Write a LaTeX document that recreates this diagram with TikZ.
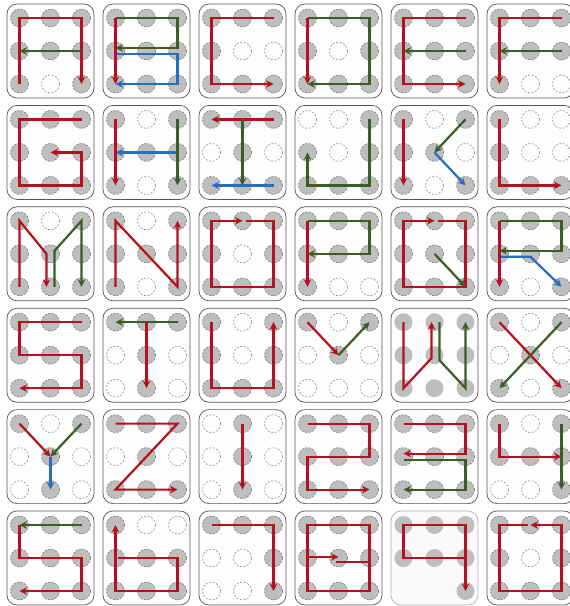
\documentclass[tikz,border=0pt]{standalone}
\usetikzlibrary{arrows.meta,calc}
\definecolor{rd}{RGB}{180,18,32}
\definecolor{gn}{RGB}{62,92,38}
\definecolor{bu}{RGB}{42,108,190}
\definecolor{dotf}{RGB}{190,190,190}
\definecolor{dote}{RGB}{120,120,120}
\definecolor{pedge}{RGB}{85,85,85}
\definecolor{pfill}{RGB}{253,253,253}
\tikzset{
  panelbox/.style={draw=pedge,fill=pfill,line width=0.7pt,rounded corners=10pt},
  dotfull/.style={fill=dotf,draw=dote,dash pattern=on 2pt off 1.6pt,line width=0.6pt},
  dotempty/.style={draw=dote!85,dash pattern=on 2pt off 1.6pt,line width=0.6pt},
  dotplain/.style={fill=dotf},
  pathline/.style={line width=2.2pt,line join=miter,-{Stealth[length=7.5pt,width=7.5pt]}},
  redp/.style={pathline,draw=rd},
  grnp/.style={pathline,draw=gn},
  blup/.style={pathline,draw=bu},
  plainred/.style={line width=2.2pt,draw=rd}
}
\newcommand\pnl[3][]{\begin{scope}[shift={(7+96*#2,4+101.4*#3)}]
  \draw[panelbox,#1] (0,0) rectangle (87,94);
  \coordinate (tl) at (12.5,14); \coordinate (tc) at (43.5,14); \coordinate (tr) at (74.5,14);
  \coordinate (ml) at (12.5,47); \coordinate (mc) at (43.5,47); \coordinate (mr) at (74.5,47);
  \coordinate (bl) at (12.5,80); \coordinate (bc) at (43.5,80); \coordinate (br) at (74.5,80);}
\newcommand\pend{\end{scope}}
\newcommand\fd[1]{\foreach \q in {#1}{\path[dotfull] (\q) circle[radius=9pt];}}
\newcommand\ed[1]{\foreach \q in {#1}{\path[dotempty] (\q) circle[radius=9pt];}}
\newcommand\pd[1]{\foreach \q in {#1}{\path[dotplain] (\q) circle[radius=9pt];}}
\begin{document}
\begin{tikzpicture}[x=1pt,y=-1pt]
\useasboundingbox (0,0) rectangle (570,606);
\fill[white] (0,0) rectangle (570,606);
% ---------- row 0
\pnl{0}{0}\fd{tl,tc,tr,ml,mc,mr,bl,br}\ed{bc}
 \draw[redp] (bl)--(tl)--(tr)--(br); \draw[grnp] (mr)--(ml);
\pend
\pnl{1}{0}\fd{tl,tc,tr,ml,mc,mr,bl,bc,br}
 \draw[grnp] (tl)--(tr)--($(mr)+(0,-3)$)--($(ml)+(0,-3)$);
 \draw[blup] ($(ml)+(0,3)$)--($(mr)+(0,3)$)--(br)--(bl);
 \draw[redp] (tl)--(bl);
\pend
\pnl{2}{0}\fd{tl,tc,tr,ml,bl,bc,br}\ed{mc,mr}
 \draw[redp] (tr)--(tl)--(bl)--(br);
\pend
\pnl{3}{0}\fd{tl,tc,tr,ml,mr,bl,bc,br}\ed{mc}
 \draw[grnp] (tl)--(tr)--(br)--(bl); \draw[redp] (tl)--(bl);
\pend
\pnl{4}{0}\fd{tl,tc,tr,ml,mc,mr,bl,bc,br}
 \draw[redp] (tr)--(tl)--(bl)--(br); \draw[grnp] (mr)--(ml);
\pend
\pnl{5}{0}\fd{tl,tc,tr,ml,mc,mr,bl}\ed{bc,br}
 \draw[redp] (tr)--(tl)--(bl); \draw[grnp] (mr)--(ml);
\pend
% ---------- row 1
\pnl{0}{1}\fd{tl,tc,tr,ml,mc,mr,bl,bc,br}
 \draw[redp] (tr)--(tl)--(bl)--(br)--(mr)--(mc);
\pend
\pnl{1}{1}\fd{tl,tr,ml,mc,mr,bl,br}\ed{tc,bc}
 \draw[blup] (mr)--(ml); \draw[redp] (tl)--(bl); \draw[grnp] (tr)--(br);
\pend
\pnl{2}{1}\fd{tl,tc,tr,mc,bl,bc,br}\ed{ml,mr}
 \draw[redp] (tr)--(tl); \draw[blup] (br)--(bl); \draw[grnp] (tc)--(bc);
\pend
\pnl{3}{1}\fd{tr,ml,mr,bl,bc,br}\ed{tl,tc,mc}
 \draw[grnp] (tr)--(br)--(bl)--(ml);
\pend
\pnl{4}{1}\fd{tl,tr,ml,mc,bl,br}\ed{tc,mr,bc}
 \draw[redp] (tl)--(bl); \draw[grnp] (tr)--(mc); \draw[blup] (mc)--(br);
\pend
\pnl{5}{1}\fd{tl,ml,bl,bc,br}\ed{tc,tr,mc,mr}
 \draw[redp] (tl)--(bl)--(br);
\pend
% ---------- row 2
\pnl{0}{2}\fd{tl,tr,ml,mc,mr,bl,bc,br}\ed{tc}
 \draw[redp] (bl)--(tl)--($(mc)+(-4,0)$)--($(bc)+(-4,0)$);
 \draw[grnp] ($(bc)+(4,0)$)--($(mc)+(4,-3)$)--(tr)--(br);
\pend
\pnl{1}{2}\fd{tl,tr,ml,mc,mr,bl,br}\ed{tc,bc}
 \draw[redp] (bl)--(tl)--(br)--(tr);
\pend
\pnl{2}{2}\fd{tl,tc,tr,ml,mr,bl,bc,br}\ed{mc}
 \draw[redp] ($(tc)+(3,0)$)--(tr)--(br)--(bl)--(tl)--(tc);
\pend
\pnl{3}{2}\fd{tl,tc,tr,ml,mc,mr,bl}\ed{bc,br}
 \draw[grnp] (tl)--(tr)--(mr)--(ml); \draw[redp] (tl)--(bl);
\pend
\pnl{4}{2}\fd{tl,tc,tr,ml,mc,mr,bl,bc,br}
 \draw[redp] ($(tc)+(3,0)$)--(tr)--(br)--(bl)--(tl)--(tc); \draw[grnp] (mc)--(br);
\pend
\pnl{5}{2}\fd{tl,tc,tr,ml,mc,mr,bl,br}\ed{bc}
 \draw[grnp] (tl)--(tr)--($(mr)+(0,-3)$)--($(ml)+(0,-3)$);
 \draw[blup] ($(ml)+(0,3)$)--($(mc)+(0,3)$)--(br);
 \draw[redp] (tl)--(bl);
\pend
% ---------- row 3
\pnl{0}{3}\fd{tl,tc,tr,ml,mc,mr,bl,bc,br}
 \draw[redp] (tr)--(tl)--(ml)--(mr)--(br)--(bl);
\pend
\pnl{1}{3}\fd{tl,tc,tr,mc,bc}\ed{ml,mr,bl,br}
 \draw[grnp] (tr)--(tl); \draw[redp] (tc)--(bc);
\pend
\pnl{2}{3}\fd{tl,tr,ml,mr,bl,bc,br}\ed{tc,mc}
 \draw[redp] (tl)--(bl)--(br)--(tr);
\pend
\pnl{3}{3}\fd{tl,tr,mc}\ed{tc,ml,mr,bl,bc,br}
 \draw[redp] (tl)--(mc); \draw[grnp] (mc)--(tr);
\pend
\pnl{4}{3}\pd{tl,tc,tr,ml,mc,mr,bl,bc,br}
 \draw[redp] (tl)--(bl)--($(mc)+(-3,3)$)--($(tc)+(-3,0)$);
 \draw[grnp] ($(tc)+(5,0)$)--($(mc)+(5,5)$)--(br)--(tr);
\pend
\pnl{5}{3}\fd{tl,tr,mc,bl,br}\ed{tc,ml,mr,bc}
 \draw[redp] (tl)--(br); \draw[grnp] (tr)--(bl);
\pend
% ---------- row 4
\pnl{0}{4}\fd{tl,tr,mc,bc}\ed{tc,ml,mr,bl,br}
 \draw[blup] (mc)--(bc); \draw[redp] (tl)--(mc); \draw[grnp] (tr)--(mc);
\pend
\pnl{1}{4}\fd{tl,tc,tr,mc,bl,bc,br}\ed{ml,mr}
 \draw[redp] (tl)--(tr)--(bl)--(br);
\pend
\pnl{2}{4}\fd{tc,mc,bc}\ed{tl,tr,ml,mr,bl,br}
 \draw[redp] (tc)--(bc);
\pend
\pnl{3}{4}\fd{tl,tc,tr,ml,mc,mr,bl,bc,br}
 \draw[redp] (tl)--(tr)--(mr)--(ml)--(bl)--(br);
\pend
\pnl{4}{4}\fd{tl,tc,tr,ml,mc,mr,bl,bc,br}
 \draw[grnp] ($(ml)+(0,3)$)--($(mr)+(0,3)$)--(br)--(bl);
 \draw[redp] (tl)--(tr)--($(mr)+(0,-3)$)--($(ml)+(0,-3)$);
\pend
\pnl{5}{4}\fd{tl,tr,ml,mc,mr,br}\ed{tc,bl,bc}
 \draw[redp] (tl)--(ml)--(mr); \draw[grnp] (tr)--(br);
\pend
% ---------- row 5
\pnl{0}{5}\fd{tl,tc,tr,ml,mc,mr,bl,bc,br}
 \draw[redp] (tl)--(ml)--(mr)--(br)--(bl); \draw[grnp] (tr)--(tl);
\pend
\pnl{1}{5}\fd{tl,ml,mc,mr,bl,bc,br}\ed{tc,tr}
 \draw[redp] ($(ml)+(2,0)$)--(mr)--(br)--(bl)--(tl);
\pend
\pnl{2}{5}\fd{tl,tc,tr,mr,br}\ed{ml,mc,bl,bc}
 \draw[redp] (tl)--(tr)--(br);
\pend
\pnl{3}{5}\fd{tl,tc,tr,ml,mc,mr,bl,bc,br}
 \draw[plainred] ($(mc)+(-3,4)$)--($(mr)+(0,4)$)--(br)--(bl)--(tl)--(tr)--($(mr)+(0,4)$);
 \draw[redp] ($(ml)+(0,-1)$)--($(mc)+(0,-1)$);
\pend
\pnl[draw=pedge!45,fill=black!2]{4}{5}\pd{tl,tc,tr,ml,mc,mr,br}
 \draw[redp] ($(mr)+(-2,0)$)--(ml)--(tl)--(tr)--(br);
\pend
\pnl{5}{5}\fd{tl,tc,tr,ml,mr,bl,bc,br}\ed{mc}
 \draw[redp] ($(tc)+(-3,0)$)--(tl)--(bl)--(br)--(tr)--(tc);
\pend
\end{tikzpicture}
\end{document}
